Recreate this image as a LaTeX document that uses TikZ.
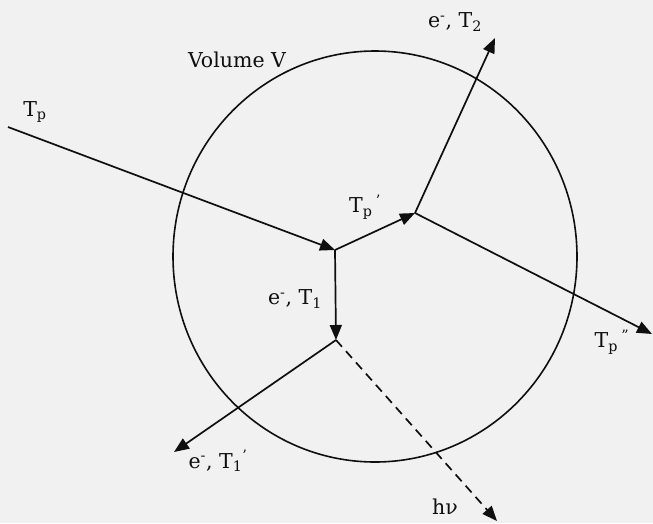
\documentclass[tikz,border=0pt]{standalone}
\usepackage{fontspec}
\setmainfont{DejaVu Serif}
\usetikzlibrary{arrows.meta}
\definecolor{paper}{RGB}{241,241,241}
\definecolor{ink}{RGB}{15,15,15}
\begin{document}
\begin{tikzpicture}[x=1pt,y=-1pt,
  track/.style={draw=ink,line width=1.7pt,-{Triangle[length=15pt,width=12pt]}},
  photon/.style={track,dash pattern=on 9pt off 6pt},
  lbl/.style={text=ink,inner sep=0pt,font=\fontsize{20.5}{24}\selectfont}]
\fill[paper] (0,0) rectangle (653,523);
\useasboundingbox (0,0) rectangle (653,523);
\draw[ink,line width=1.6pt] (375,256.5) ellipse [x radius=202, y radius=205.5];
% vertices and free ends
\coordinate (P0) at (8,127);
\coordinate (A) at (335,250);
\coordinate (B) at (415,213);
\coordinate (C) at (336,340);
\coordinate (E2) at (495,38);
\coordinate (Epp) at (652,334);
\coordinate (E1p) at (174,452);
\coordinate (H) at (497,521);
% tracks
\draw[track] (P0) -- (A);
\draw[track] (A) -- (B);
\draw[track] (A) -- (C);
\draw[track] (B) -- (E2);
\draw[track] (B) -- (Epp);
\draw[track] (C) -- (E1p);
\draw[photon] (C) -- (H);
% labels
\node[lbl] (vol) at (237,60) {Volume V};
\node[lbl] (tp) at (35,112) {T\textsubscript{p}};
\node[lbl] (tpp) at (365,207) {T\textsubscript{p}\,\textsuperscript{'}};
\node[lbl] (t2) at (455,22) {e\textsuperscript{-}, T\textsubscript{2}};
\node[lbl] (tppp) at (612,342) {T\textsubscript{p}\,\textsuperscript{''}};
\node[lbl] (t1) at (295,299) {e\textsuperscript{-}, T\textsubscript{1}};
\node[lbl] (t1p) at (218,461) {e\textsuperscript{-}, T\textsubscript{1}\textsuperscript{'}};
\node[lbl] (hnu) at (445,507) {hν};
\end{tikzpicture}
\end{document}
